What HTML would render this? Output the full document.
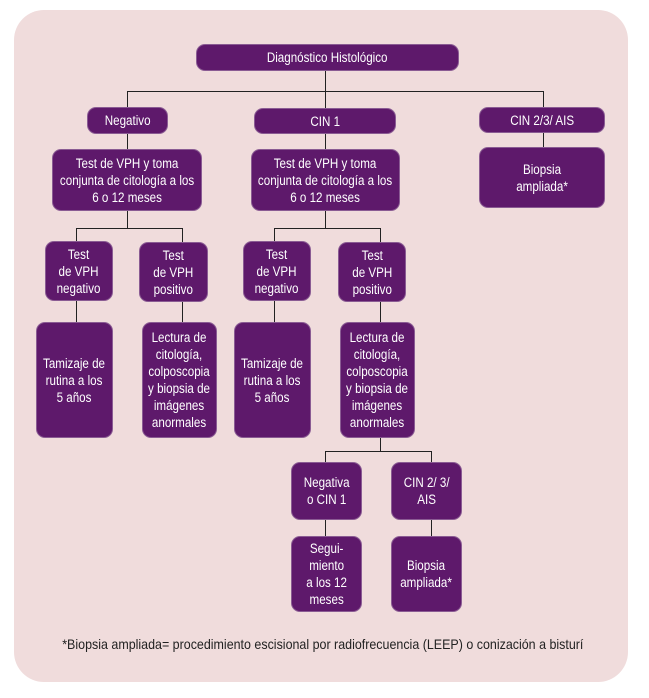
<!DOCTYPE html>
<html><head><meta charset="utf-8"><style>
body{margin:0;width:649px;height:698px;background:#fff;position:relative;overflow:hidden;font-family:"Liberation Sans",sans-serif}
.panel{position:absolute;left:14px;top:10px;width:614px;height:672px;background:#f0dcdc;border-radius:30px}
.b{position:absolute;background:#5e196b;border-radius:8px;color:#fff;display:flex;align-items:center;justify-content:center;text-align:center;font-size:13.5px;line-height:17px;box-shadow:0 0 0 1px #8a5b93}
.b span{display:inline-block;transform:scaleX(.86);white-space:nowrap}
.l{position:absolute;background:#222}
.h{height:1.3px}.v{width:1.3px}
.foot{position:absolute;left:30px;top:636px;width:585px;text-align:center;font-size:14px;color:#222}
.foot span{display:inline-block;transform:scaleX(.89);white-space:nowrap}
</style></head><body>
<div class="panel"></div>
<div class="l v" style="left:325px;top:70px;height:40px"></div>
<div class="l h" style="left:127px;top:91px;width:417px"></div>
<div class="l v" style="left:127px;top:91px;height:18px"></div>
<div class="l v" style="left:543px;top:91px;height:18px"></div>
<div class="l v" style="left:127px;top:133px;height:18px"></div>
<div class="l v" style="left:325px;top:133px;height:18px"></div>
<div class="l v" style="left:543px;top:132px;height:18px"></div>
<div class="l v" style="left:127px;top:210px;height:18px"></div>
<div class="l v" style="left:325px;top:210px;height:18px"></div>
<div class="l h" style="left:76px;top:228px;width:106px"></div>
<div class="l h" style="left:274px;top:228px;width:106px"></div>
<div class="l v" style="left:76px;top:228px;height:15px"></div>
<div class="l v" style="left:182px;top:228px;height:15px"></div>
<div class="l v" style="left:274px;top:228px;height:15px"></div>
<div class="l v" style="left:380px;top:228px;height:15px"></div>
<div class="l v" style="left:76px;top:300px;height:24px"></div>
<div class="l v" style="left:182px;top:300px;height:24px"></div>
<div class="l v" style="left:274px;top:300px;height:24px"></div>
<div class="l v" style="left:380px;top:300px;height:24px"></div>
<div class="l v" style="left:380px;top:437px;height:15px"></div>
<div class="l h" style="left:325px;top:451px;width:106px"></div>
<div class="l v" style="left:325px;top:451px;height:13px"></div>
<div class="l v" style="left:431px;top:451px;height:13px"></div>
<div class="l v" style="left:325px;top:519px;height:19px"></div>
<div class="l v" style="left:431px;top:519px;height:19px"></div>
<div class="b" style="left:197px;top:45px;width:261px;height:25px"><span>Diagnóstico Histológico</span></div>
<div class="b" style="left:88px;top:108px;width:79px;height:25px"><span>Negativo</span></div>
<div class="b" style="left:255px;top:109px;width:140px;height:24px"><span>CIN 1</span></div>
<div class="b" style="left:480px;top:108px;width:124px;height:24px"><span>CIN 2/3/ AIS</span></div>
<div class="b" style="left:53px;top:150px;width:148px;height:60px"><span>Test de VPH y toma<br>conjunta de citología a los<br>6 o 12 meses</span></div>
<div class="b" style="left:252px;top:150px;width:147px;height:60px"><span>Test de VPH y toma<br>conjunta de citología a los<br>6 o 12 meses</span></div>
<div class="b" style="left:480px;top:148px;width:124px;height:59px"><span>Biopsia<br>ampliada*</span></div>
<div class="b" style="left:46px;top:242px;width:66px;height:58px"><span>Test<br>de VPH<br>negativo</span></div>
<div class="b" style="left:140px;top:243px;width:67px;height:58px"><span>Test<br>de VPH<br>positivo</span></div>
<div class="b" style="left:244px;top:242px;width:66px;height:58px"><span>Test<br>de VPH<br>negativo</span></div>
<div class="b" style="left:339px;top:243px;width:66px;height:58px"><span>Test<br>de VPH<br>positivo</span></div>
<div class="b" style="left:37px;top:323px;width:75px;height:114px"><span>Tamizaje de<br>rutina a los<br>5 años</span></div>
<div class="b" style="left:143px;top:323px;width:73px;height:114px"><span>Lectura de<br>citología,<br>colposcopia<br>y biopsia de<br>imágenes<br>anormales</span></div>
<div class="b" style="left:235px;top:323px;width:75px;height:114px"><span>Tamizaje de<br>rutina a los<br>5 años</span></div>
<div class="b" style="left:341px;top:323px;width:73px;height:114px"><span>Lectura de<br>citología,<br>colposcopia<br>y biopsia de<br>imágenes<br>anormales</span></div>
<div class="b" style="left:292px;top:463px;width:69px;height:56px"><span>Negativa<br>o CIN 1</span></div>
<div class="b" style="left:392px;top:463px;width:69px;height:56px"><span>CIN 2/ 3/<br>AIS</span></div>
<div class="b" style="left:292px;top:537px;width:69px;height:74px"><span>Segui-<br>miento<br>a los 12<br>meses</span></div>
<div class="b" style="left:392px;top:537px;width:69px;height:74px"><span>Biopsia<br>ampliada*</span></div>
<div class="foot"><span>*Biopsia ampliada= procedimiento escisional por radiofrecuencia (LEEP) o conización a bisturí</span></div>
</body></html>
